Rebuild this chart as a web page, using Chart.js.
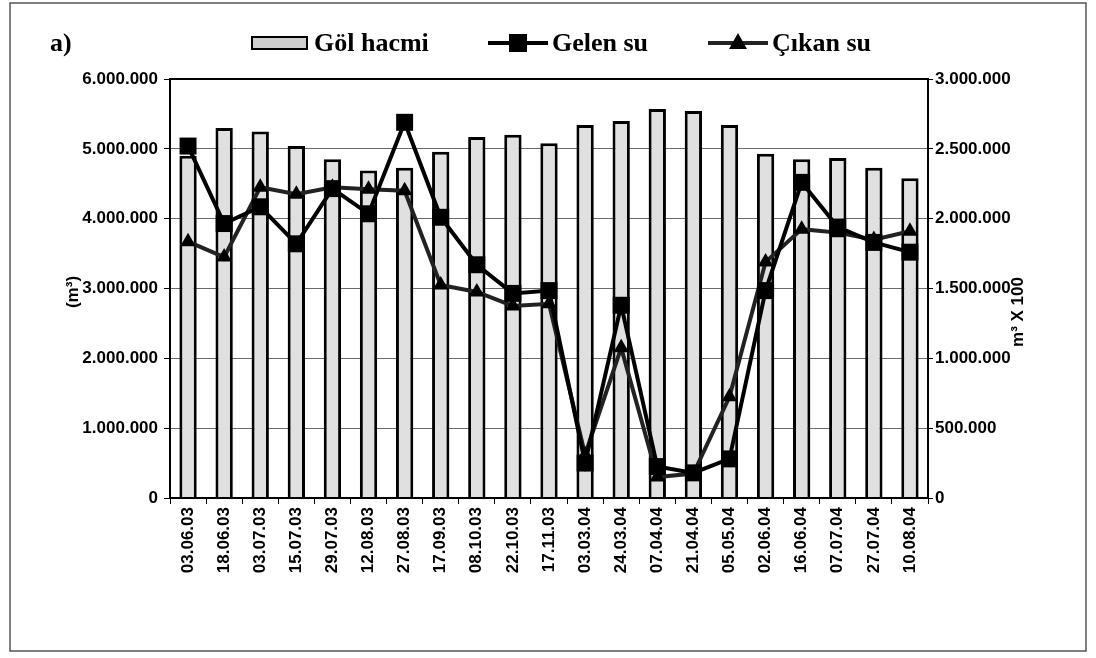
<!DOCTYPE html>
<html>
<head>
<meta charset="utf-8">
<script src="https://cdn.jsdelivr.net/npm/chart.js@4"></script>
<style>
  html, body { margin: 0; padding: 0; background: #fff; }
  #wrap { width: 1096px; height: 658px; }
</style>
</head>
<body>
<div id="wrap"><canvas id="c" width="1096" height="658"></canvas></div>
<script>
// ── data ──────────────────────────────────────────────────────────────────────
const dates = ['03.06.03','18.06.03','03.07.03','15.07.03','29.07.03','12.08.03','27.08.03',
               '17.09.03','08.10.03','22.10.03','17.11.03','03.03.04','24.03.04','07.04.04',
               '21.04.04','05.05.04','02.06.04','16.06.04','07.07.04','27.07.04','10.08.04']

// Göl hacmi (m³), left axis
const golHacmi = [4900000, 5300000, 5250000, 5040000, 4850000, 4690000, 4730000,
                  4960000, 5170000, 5200000, 5080000, 5340000, 5400000, 5570000,
                  5540000, 5340000, 4930000, 4850000, 4870000, 4730000, 4580000]

// Gelen su / Çıkan su (m³ X 100), right axis
const gelenSu = [2520000, 1965000, 2085000, 1820000, 2215000, 2035000, 2690000,
                 2010000, 1670000, 1465000, 1485000, 250000, 1380000, 225000,
                 180000, 280000, 1485000, 2260000, 1940000, 1830000, 1760000]
const cikanSu = [1835000, 1725000, 2225000, 2175000, 2225000, 2210000, 2200000,
                 1525000, 1475000, 1375000, 1390000, 310000, 1075000, 150000,
                 175000, 725000, 1690000, 1925000, 1900000, 1850000, 1910000]

const leftTicks  = { min: 0, max: 6000000, step: 1000000 }
const rightTicks = { min: 0, max: 3000000, step: 500000 }

// ── helpers ───────────────────────────────────────────────────────────────────
const dotFmt = v => String(v).replace(/\B(?=(\d{3})+(?!\d))/g, '.')
const SANS   = '"Liberation Sans", Arial, sans-serif'
const SERIF  = '"Liberation Serif", "Times New Roman", serif'
const BAR_FILL = '#e0e0e0'

const area = { left: 170, right: 928, top: 79, bottom: 498 }

function vText(ctx, txt, x, y) {
  ctx.save()
  ctx.translate(x, y)
  ctx.rotate(-Math.PI / 2)
  ctx.textAlign = 'center'
  ctx.fillText(txt, 0, 0)
  ctx.restore()
}

// frame, plot border, "a)", legend and axis titles
const decor = {
  id: 'decor',
  afterDraw(chart) {
    const { ctx, chartArea: ca } = chart
    ctx.save()
    ctx.strokeStyle = '#555'; ctx.lineWidth = 1.5
    ctx.strokeRect(10, 3, 1076, 648)

    ctx.strokeStyle = '#000'; ctx.lineWidth = 2
    ctx.strokeRect(ca.left, ca.top, ca.right - ca.left, ca.bottom - ca.top)

    ctx.fillStyle = '#000'
    ctx.textBaseline = 'middle'
    ctx.font = 'bold 26px ' + SERIF
    ctx.fillText('a)', 50, 44)

    // legend
    ctx.fillStyle = '#cfcfcf'
    ctx.fillRect(252, 37, 55, 12)
    ctx.strokeStyle = '#000'; ctx.lineWidth = 2
    ctx.strokeRect(252, 37, 55, 12)
    ctx.fillStyle = '#000'
    ctx.fillText('Göl hacmi', 314, 44)

    ctx.lineWidth = 4
    ctx.beginPath(); ctx.moveTo(488, 43); ctx.lineTo(548, 43); ctx.stroke()
    ctx.fillRect(509, 34, 18, 18)
    ctx.fillText('Gelen su', 552, 44)

    ctx.strokeStyle = '#222'
    ctx.beginPath(); ctx.moveTo(708, 43); ctx.lineTo(768, 43); ctx.stroke()
    ctx.beginPath()
    ctx.moveTo(738, 33); ctx.lineTo(747, 49); ctx.lineTo(729, 49); ctx.closePath()
    ctx.fill()
    ctx.fillText('Çıkan su', 772, 44)

    // axis titles, both read bottom to top
    ctx.font = 'bold 17px ' + SANS
    vText(ctx, '(m³)', 73, 292)
    vText(ctx, 'm³ X 100', 1018, 312)
    ctx.restore()
  }
}

new Chart(document.getElementById('c'), {
  data: {
    labels: dates,
    datasets: [
      {
        type: 'line', label: 'Gelen su', data: gelenSu, yAxisID: 'y1', order: 1,
        borderColor: '#000', backgroundColor: '#000', borderWidth: 4,
        pointStyle: 'rect', pointRadius: 12, pointBorderWidth: 0,
      },
      {
        type: 'line', label: 'Çıkan su', data: cikanSu, yAxisID: 'y1', order: 2,
        borderColor: '#222', backgroundColor: '#000', borderWidth: 4,
        pointStyle: 'triangle', pointRadius: 9, pointBorderWidth: 0,
      },
      {
        type: 'bar', label: 'Göl hacmi', data: golHacmi, yAxisID: 'y', order: 3,
        backgroundColor: BAR_FILL, borderColor: '#000', borderWidth: 3,
        barPercentage: 0.48, categoryPercentage: 1,
      },
    ],
  },
  options: {
    responsive: false,
    animation: false,
    layout: { padding: { top: area.top, bottom: 0, left: 0, right: 0 } },
    plugins: { legend: { display: false }, tooltip: { enabled: false } },
    scales: {
      x: {
        offset: true,
        grid: { display: true, drawOnChartArea: false, color: '#000', tickLength: 6, offset: true },
        border: { color: '#000', width: 2 },
        ticks: {
          color: '#000', font: { family: SANS, size: 17, weight: 'bold' },
          minRotation: 90, maxRotation: 90, autoSkip: false, padding: 3,
        },
        afterFit: s => { s.height = 658 - area.bottom },
      },
      y: {
        position: 'left',
        min: leftTicks.min, max: leftTicks.max,
        grid: { color: '#6a6a6a', lineWidth: 1, tickColor: '#000', tickLength: 6 },
        border: { color: '#000', width: 2 },
        ticks: {
          stepSize: leftTicks.step, color: '#000', padding: 6,
          font: { family: SANS, size: 17, weight: 'bold' },
          callback: v => dotFmt(v),
        },
        afterFit: s => { s.width = area.left },
      },
      y1: {
        position: 'right',
        min: rightTicks.min, max: rightTicks.max,
        grid: { drawOnChartArea: false, color: '#000', tickLength: 5 },
        border: { color: '#000', width: 2 },
        ticks: {
          stepSize: rightTicks.step, color: '#000', padding: 2,
          font: { family: SANS, size: 17, weight: 'bold' },
          callback: v => dotFmt(v),
        },
        afterFit: s => { s.width = 1096 - area.right },
      },
    },
  },
  plugins: [decor],
})
</script>
</body>
</html>
